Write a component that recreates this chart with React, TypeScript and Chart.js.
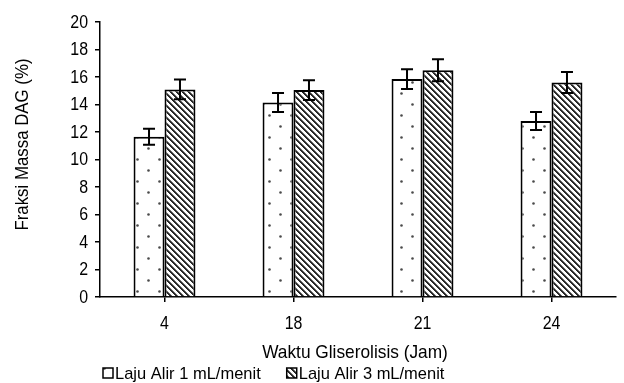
import React, { useEffect, useRef } from 'react';
import { Chart, registerables } from 'chart.js';

Chart.register(...registerables);

const categories = ['4', '18', '21', '24'];
const seriesLabels = ['Laju Alir 1 mL/menit', 'Laju Alir 3 mL/menit'];
const flow1Values = [11.65, 14.15, 15.85, 12.8];
const flow1Errors = [0.58, 0.69, 0.72, 0.65];
const flow3Values = [15.1, 15.05, 16.5, 15.6];
const flow3Errors = [0.72, 0.72, 0.8, 0.76];
const yMin = 0;
const yMax = 20;
const yStep = 2;
const xTitle = 'Waktu Gliserolisis (Jam)';
const yTitle = 'Fraksi Massa DAG (%)';

const FONT = "'Liberation Sans', Arial, sans-serif";
const NARROW = 0.91;

function drawNarrowText(
  ctx: CanvasRenderingContext2D,
  text: string,
  x: number,
  y: number,
  size: number,
  align: CanvasTextAlign,
  baseline: CanvasTextBaseline,
  scaleX = NARROW
) {
  ctx.save();
  ctx.font = `${size}px ${FONT}`;
  ctx.fillStyle = '#000';
  ctx.textAlign = align;
  ctx.textBaseline = baseline;
  ctx.translate(x, y);
  ctx.scale(scaleX, 1);
  ctx.fillText(text, 0, 0);
  const w = ctx.measureText(text).width * scaleX;
  ctx.restore();
  return w;
}

function makeDotPattern(ctx: CanvasRenderingContext2D) {
  const c = document.createElement('canvas');
  c.width = 22;
  c.height = 22;
  const g = c.getContext('2d')!;
  g.fillStyle = '#ffffff';
  g.fillRect(0, 0, 22, 22);
  g.fillStyle = '#4a4a4a';
  g.beginPath();
  g.arc(5.5, 5.5, 1.3, 0, Math.PI * 2);
  g.fill();
  g.beginPath();
  g.arc(16.5, 16.5, 1.3, 0, Math.PI * 2);
  g.fill();
  return ctx.createPattern(c, 'repeat')!;
}

function makeHatchPattern(ctx: CanvasRenderingContext2D) {
  const n = 6;
  const c = document.createElement('canvas');
  c.width = n;
  c.height = n;
  const g = c.getContext('2d')!;
  const img = g.createImageData(n, n);
  for (let y = 0; y < n; y++) {
    for (let x = 0; x < n; x++) {
      const k = (((x - y) % n) + n) % n;
      let v = 255;
      if (k === 0 || k === 1) v = 40;
      else if (k === 2) v = 120;
      const i = (y * n + x) * 4;
      img.data[i] = v;
      img.data[i + 1] = v;
      img.data[i + 2] = v;
      img.data[i + 3] = 255;
    }
  }
  g.putImageData(img, 0, 0);
  return ctx.createPattern(c, 'repeat')!;
}

const errorsBySeries = [flow1Errors, flow3Errors];

const errorBarPlugin = {
  id: 'errorBars',
  afterDatasetsDraw(chart: any) {
    const ctx = chart.ctx as CanvasRenderingContext2D;
    const yScale = chart.scales.y;
    chart.data.datasets.forEach((ds: any, i: number) => {
      const meta = chart.getDatasetMeta(i);
      const errs = errorsBySeries[i];
      meta.data.forEach((bar: any, j: number) => {
        const v = ds.data[j] as number;
        const e = errs[j];
        const top = yScale.getPixelForValue(v + e);
        const bot = yScale.getPixelForValue(v - e);
        const x = bar.x;
        ctx.save();
        ctx.strokeStyle = '#000';
        ctx.lineWidth = 2;
        ctx.beginPath();
        ctx.moveTo(x, top);
        ctx.lineTo(x, bot);
        ctx.moveTo(x - 6, top);
        ctx.lineTo(x + 6, top);
        ctx.moveTo(x - 6, bot);
        ctx.lineTo(x + 6, bot);
        ctx.stroke();
        ctx.restore();
      });
    });
  },
};

const customTextPlugin = {
  id: 'customText',
  afterDraw(chart: any) {
    const ctx = chart.ctx as CanvasRenderingContext2D;
    const area = chart.chartArea;
    const xs = chart.scales.x;
    const ys = chart.scales.y;

    // y tick labels
    ys.ticks.forEach((t: any, i: number) => {
      const py = ys.getPixelForTick(i);
      drawNarrowText(ctx, String(t.label), area.left - 12, py + 1, 17.5, 'right', 'middle');
    });
    // x tick labels
    xs.ticks.forEach((t: any, i: number) => {
      const px = xs.getPixelForTick(i);
      drawNarrowText(ctx, String(xs.getLabelForValue(t.value)), px, area.bottom + 32, 17.5, 'center', 'alphabetic');
    });

    // x title
    drawNarrowText(ctx, xTitle, (area.left + area.right) / 2 - 3, area.bottom + 61, 19, 'center', 'alphabetic');

    // y title
    ctx.save();
    ctx.translate(area.left - 72, (area.top + area.bottom) / 2 - 15);
    ctx.rotate(-Math.PI / 2);
    drawNarrowText(ctx, yTitle, 0, 0, 18.5, 'center', 'alphabetic');
    ctx.restore();

    // legend
    const yBase = chart.height - 4;
    let x = area.left + 3;
    chart.data.datasets.forEach((ds: any, i: number) => {
      const box = 10;
      const boxTop = yBase - 11;
      ctx.save();
      ctx.fillStyle = ds.backgroundColor;
      ctx.fillRect(x, boxTop, box, box);
      ctx.strokeStyle = '#000';
      ctx.lineWidth = 1.5;
      ctx.strokeRect(x, boxTop, box, box);
      ctx.restore();
      const w = drawNarrowText(ctx, seriesLabels[i], x + 12, yBase, 17, 'left', 'alphabetic', 0.97);
      x += 12 + w + 26;
    });
  },
};

export default function App() {
  const ref = useRef<HTMLCanvasElement | null>(null);

  useEffect(() => {
    document.body.style.margin = '0';
    const canvas = ref.current!;
    const ctx = canvas.getContext('2d')!;
    const dots = makeDotPattern(ctx);
    const hatch = makeHatchPattern(ctx);

    const chart = new Chart(canvas, {
      type: 'bar',
      data: {
        labels: categories,
        datasets: [
          {
            label: seriesLabels[0],
            data: flow1Values,
            backgroundColor: dots as any,
            borderColor: '#000',
            borderWidth: 2,
            categoryPercentage: 0.48,
            barPercentage: 1.0,
          },
          {
            label: seriesLabels[1],
            data: flow3Values,
            backgroundColor: hatch as any,
            borderColor: '#000',
            borderWidth: 2,
            categoryPercentage: 0.48,
            barPercentage: 1.0,
          },
        ],
      },
      options: {
        responsive: false,
        animation: false,
        devicePixelRatio: 1,
        layout: { padding: { top: 22, right: 8, left: 0, bottom: 0 } },
        plugins: {
          legend: { display: false },
          tooltip: { enabled: false },
        },
        scales: {
          x: {
            grid: {
              display: true,
              drawOnChartArea: false,
              drawTicks: true,
              tickLength: 5,
              color: '#000',
              lineWidth: 1.5,
              offset: false,
            },
            border: { display: true, color: '#000', width: 1.5 },
            ticks: {
              color: 'rgba(0,0,0,0)',
              font: { family: FONT, size: 16 },
              padding: 6,
              maxRotation: 0,
            },
            title: { display: false, text: xTitle },
            afterFit(scale: any) {
              scale.height = 86;
            },
          },
          y: {
            min: yMin,
            max: yMax,
            ticks: {
              stepSize: yStep,
              color: 'rgba(0,0,0,0)',
              font: { family: FONT, size: 16 },
              padding: 6,
            },
            grid: {
              display: true,
              drawOnChartArea: false,
              drawTicks: true,
              tickLength: 5,
              color: '#000',
              lineWidth: 1.5,
            },
            border: { display: true, color: '#000', width: 1.5 },
            title: { display: false, text: yTitle },
            afterFit(scale: any) {
              scale.width = 100;
            },
          },
        },
      },
      plugins: [errorBarPlugin, customTextPlugin],
    });
    return () => chart.destroy();
  }, []);

  return (
    <div style={{ width: 624, height: 383 }}>
      <canvas ref={ref} width={624} height={383} style={{ display: 'block' }} />
    </div>
  );
}
